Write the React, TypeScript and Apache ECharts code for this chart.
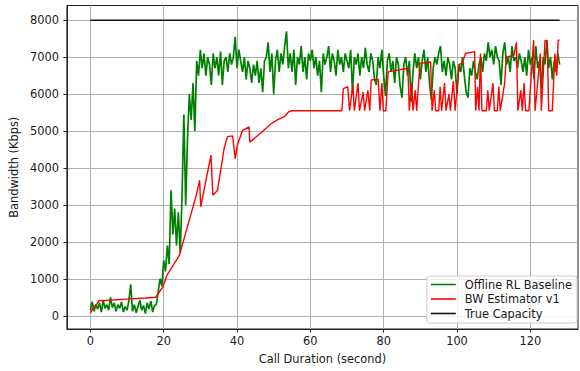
import React, { useEffect, useRef } from "react";
import * as echarts from "echarts";

const xTicks = [0, 20, 40, 60, 80, 100, 120];
const yTicks = [0, 1000, 2000, 3000, 4000, 5000, 6000, 7000, 8000];

const seriesNames = ["Offline RL Baseline", "BW Estimator v1", "True Capacity"];

// Offline RL Baseline, one sample every 0.5 s starting at 0 s
const GREEN_STEP = 0.5;
const greenValues = [
  150, 380, 120, 300, 180, 350, 100, 420, 200, 300, // 0 - 4.5
  150, 500, 220, 350, 120, 300, 200, 380, 100, 250, // 5 - 9.5
  150, 400, 850, 120, 300, 80, 250, 420, 150, 280, // 10 - 14.5
  60, 350, 180, 400, 100, 280, 300, 650, 1000, 800, // 15 - 19.5
  1500, 1200, 1900, 1400, 3400, 2200, 2900, 1900, 2800, 1700, // 20 - 24.5
  3200, 5450, 3000, 4800, 6000, 5300, 6300, 5000, 6900, 6500, // 25 - 29.5
  7200, 6700, 7100, 6500, 7000, 6800, 6250, 7100, 6700, 7000, // 30 - 34.5
  6500, 7150, 6250, 6900, 7000, 6600, 7100, 6800, 7000, 7550, // 35 - 39.5
  6700, 7200, 6900, 6600, 7000, 6400, 6900, 6700, 6300, 6800, // 40 - 44.5
  6500, 6900, 6300, 6700, 6050, 6900, 7000, 7400, 6600, 7100, // 45 - 49.5
  6000, 6900, 7200, 6600, 7100, 6800, 7300, 7700, 6700, 7100, // 50 - 54.5
  6600, 7200, 6250, 7000, 6800, 7300, 6600, 7000, 6400, 7100, // 55 - 59.5
  6900, 7200, 6700, 7000, 6500, 6900, 6050, 7100, 6800, 7000, // 60 - 64.5
  7300, 6600, 7100, 6900, 6500, 7200, 6800, 7000, 6600, 7100, // 65 - 69.5
  6900, 6700, 7200, 6050, 7000, 6800, 7100, 6500, 7000, 6700, // 70 - 74.5
  7250, 6800, 6600, 7100, 6900, 6400, 6250, 7000, 6700, 7200, // 75 - 79.5
  6500, 5950, 6900, 7100, 6600, 6900, 6300, 7000, 6800, 6200, // 80 - 84.5
  5900, 6800, 7000, 6500, 6900, 5800, 6600, 7100, 6700, 7000, // 85 - 89.5
  6400, 6900, 7200, 6600, 7000, 6300, 5850, 6700, 7000, 6800, // 90 - 94.5
  7100, 7300, 6600, 6900, 6500, 7000, 6800, 6400, 6900, 6700, // 95 - 99.5
  6000, 6800, 6600, 7000, 6500, 6050, 5900, 6700, 6500, 6900, // 100 - 104.5
  6600, 6400, 6800, 7000, 6600, 7100, 6900, 7400, 7000, 7200, // 105 - 109.5
  6800, 7300, 7000, 6900, 6250, 7100, 7400, 6800, 7000, 6600, // 110 - 114.5
  7300, 6900, 7000, 6700, 7100, 6900, 6600, 7000, 6500, 7200, // 115 - 119.5
  6800, 7000, 6400, 7300, 6700, 6900, 6150, 7000, 6800, 7450, // 120 - 124.5
  6700, 7000, 6400, 6900, 6600, 7100, 6800, // 125 - 128
];

// BW Estimator v1 (time in seconds, value in Kbps)
const redTimes = [
  0, 0.9, 1.8, 2.3, 5, 10, 15, 17.8, 19.8, 20.9,
  24.3, 28.9, 29.8, 30.1, 32.9, 33.4, 34.7, 36.5, 37.4, 38.8,
  39.5, 40.1, 41.5, 43.3, 43.5, 46.9, 49.2, 51, 53, 54.1,
  55, 68.6, 69, 70.2, 70.7, 71.6, 72, 73, 73.4, 74.4,
  74.8, 75.7, 76.2, 76.6, 78.5, 79, 79.5, 79.9, 80.6, 81.2,
  86.6, 87, 87.6, 88, 88.6, 89, 89.9, 92.8, 93.2, 93.8,
  94.2, 95, 95.4, 95.8, 96.6, 97, 97.8, 98.2, 99, 99.5,
  100.2, 100.6, 101.5, 102.3, 104.8, 105.1, 105.6, 106, 106.4, 106.8,
  108, 108.4, 108.8, 109.8, 110.2, 111, 111.4, 111.8, 113, 113.4,
  115.5, 116.2, 116.6, 117.4, 117.8, 118.3, 118.7, 119.6, 120.9, 121.3,
  122, 122.7, 123, 124, 124.6, 125, 126, 126.7, 127.2, 127.6,
  128,
];
const redValues = [
  70, 240, 315, 405, 420, 450, 480, 500, 785, 1100,
  1640, 3265, 3670, 2950, 4350, 3265, 3400, 4540, 4850, 4870,
  4250, 4620, 5020, 5110, 4700, 4980, 5190, 5300, 5400, 5520,
  5550, 5550, 6150, 6200, 5550, 6250, 5550, 6300, 5550, 6050,
  5550, 6100, 5550, 6380, 6400, 5550, 6300, 5550, 5550, 6600,
  6700, 5550, 6300, 5550, 6100, 5550, 6830, 6870, 5550, 6100,
  5550, 5550, 6200, 5550, 6300, 5550, 6000, 5550, 6350, 5550,
  6400, 6800, 6850, 7100, 7150, 5550, 6200, 5550, 7100, 5550,
  5550, 6100, 5550, 6300, 5550, 5550, 6200, 5550, 6300, 7000,
  7050, 7400, 5550, 6100, 5550, 6300, 5550, 5550, 7460, 5550,
  6300, 7100, 5550, 7450, 7450, 5550, 5550, 7100, 6500, 7460,
  7460,
];

const capacityTimes = [0, 128];
const capacityValues = [8000, 8000];

const FONT = "'DejaVu Sans', sans-serif";
const TXT = "#1a1a1a";
const LINE_ICON = "path://M0,0L25,0L25,1.6L0,1.6Z";

export default function App() {
  const ref = useRef<HTMLDivElement>(null);

  useEffect(() => {
    if (!ref.current) return;
    document.body.style.margin = "0";
    const chart = echarts.init(ref.current, undefined, { renderer: "svg" });

    const greenData = greenValues.map((v, i) => [i * GREEN_STEP, v]);
    const redData = redTimes.map((t, i) => [t, redValues[i]]);
    const capData = capacityTimes.map((t, i) => [t, capacityValues[i]]);

    chart.setOption({
      animation: false,
      backgroundColor: "#ffffff",
      textStyle: { fontFamily: FONT },
      grid: {
        left: 63,
        top: 5.5,
        right: 2,
        bottom: 42,
        show: true,
        borderColor: "#222",
        borderWidth: 1,
        backgroundColor: "transparent",
      },
      legend: {
        data: seriesNames.map((n) => ({ name: n, icon: LINE_ICON })),
        orient: "vertical",
        right: 3,
        bottom: 48,
        itemWidth: 25,
        itemHeight: 14,
        itemGap: 3.5,
        symbolKeepAspect: true,
        padding: [3, 5, 4, 4],
        backgroundColor: "rgba(255,255,255,0.8)",
        borderColor: "#cccccc",
        borderWidth: 1,
        borderRadius: 3,
        textStyle: {
          fontFamily: FONT,
          fontSize: 11.4,
          color: TXT,
          padding: [0, 0, 0, 4],
        },
      },
      xAxis: {
        type: "value",
        min: -6.4,
        max: 133,
        splitNumber: 7,
        minInterval: 20,
        maxInterval: 20,
        name: "Call Duration (second)",
        nameLocation: "middle",
        nameGap: 24,
        nameTextStyle: { fontFamily: FONT, fontSize: 11.4, color: TXT },
        axisLine: { show: true, onZero: false, lineStyle: { color: "#222", width: 1 } },
        axisTick: {
          show: true,
          inside: false,
          length: 3.5,
          customValues: xTicks,
          lineStyle: { color: "#222", width: 1 },
        },
        axisLabel: {
          customValues: xTicks,
          margin: 6,
          fontFamily: FONT,
          fontSize: 11.4,
          color: TXT,
          formatter: (v: number) => String(v),
        },
        splitLine: { show: true, lineStyle: { color: "#b0b0b0", width: 1 } },
      },
      yAxis: {
        type: "value",
        min: -358,
        max: 8398,
        splitNumber: 8,
        minInterval: 1000,
        maxInterval: 1000,
        name: "Bandwidth (Kbps)",
        nameLocation: "middle",
        nameGap: 43,
        nameTextStyle: { fontFamily: FONT, fontSize: 11.4, color: TXT },
        axisLine: { show: true, onZero: false, lineStyle: { color: "#222", width: 1 } },
        axisTick: {
          show: true,
          inside: false,
          length: 3.5,
          customValues: yTicks,
          lineStyle: { color: "#222", width: 1 },
        },
        axisLabel: {
          customValues: yTicks,
          margin: 8,
          fontFamily: FONT,
          fontSize: 11.4,
          color: TXT,
          formatter: (v: number) => String(v),
        },
        splitLine: { show: true, lineStyle: { color: "#b0b0b0", width: 1 } },
      },
      series: [
        {
          name: seriesNames[0],
          type: "line",
          data: greenData,
          symbol: "none",
          lineStyle: { color: "#008000", width: 1.7 },
          itemStyle: { color: "#008000" },
          z: 3,
        },
        {
          name: seriesNames[1],
          type: "line",
          data: redData,
          symbol: "none",
          lineStyle: { color: "#ff0000", width: 1.4 },
          itemStyle: { color: "#ff0000" },
          z: 4,
        },
        {
          name: seriesNames[2],
          type: "line",
          data: capData,
          symbol: "none",
          lineStyle: { color: "#111111", width: 1.6 },
          itemStyle: { color: "#111111" },
          z: 5,
        },
      ],
    });

    return () => chart.dispose();
  }, []);

  return <div ref={ref} style={{ width: 580, height: 371 }} />;
}
